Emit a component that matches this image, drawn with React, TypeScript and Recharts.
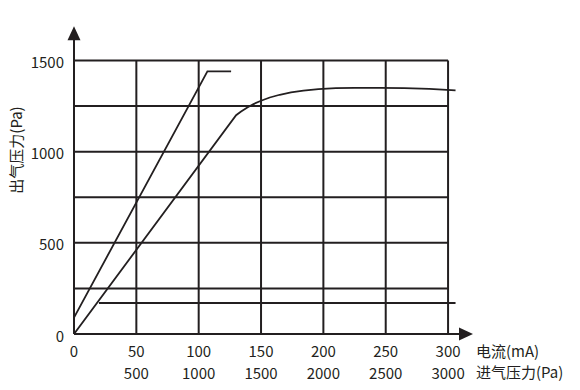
import { LineChart, Line, XAxis, YAxis, ReferenceLine, ReferenceDot } from "recharts";

const INK = "#231f20";
const FONT = "'Noto Sans CJK SC', 'Noto Sans', sans-serif";

// 电流 (mA) ticks and the matching 进气压力 (Pa) ticks under them
const currentTicks = [0, 50, 100, 150, 200, 250, 300];
const inletTicks = ["", "500", "1000", "1500", "2000", "2500", "3000"];
const outletTicks = [0, 500, 1000, 1500];
const gridLevels = [250, 500, 750, 1000, 1250, 1500];

const steepLine = [
  { x: 0, y: 90 },
  { x: 107, y: 1440 },
  { x: 126, y: 1440 },
];

const curveLine = [
  { x: 0, y: 0 },
  { x: 130, y: 1200 },
  { x: 134, y: 1220 },
  { x: 139, y: 1242 },
  { x: 144, y: 1261 },
  { x: 150, y: 1279 },
  { x: 157, y: 1297 },
  { x: 165, y: 1312 },
  { x: 174, y: 1325 },
  { x: 184, y: 1335 },
  { x: 196, y: 1343 },
  { x: 210, y: 1348 },
  { x: 225, y: 1350 },
  { x: 245, y: 1350 },
  { x: 265, y: 1348 },
  { x: 285, y: 1344 },
  { x: 306, y: 1336 },
];

const baseLevel = 170;
const baseStart = 20;
const baseEnd = 306;

const XTick = (props: any) => {
  const { x, payload, index } = props;
  return (
    <g fontFamily={FONT} fontSize={15} fill={INK}>
      <text x={x} y={350} textAnchor="middle" dominantBaseline="central" fill={INK}>
        {payload.value}
      </text>
      <text x={x} y={372} textAnchor="middle" dominantBaseline="central" fill={INK}>
        {inletTicks[index]}
      </text>
    </g>
  );
};

const YTick = (props: any) => {
  const { y, payload } = props;
  return (
    <text x={64} y={y + 1} textAnchor="end" dominantBaseline="central" fontFamily={FONT} fontSize={15} fill={INK}>
      {payload.value}
    </text>
  );
};

const UpArrow = (props: any) => {
  const { cx, cy } = props;
  return <path d={`M${cx},${cy} L${cx - 6.5},${cy + 14} L${cx + 6.5},${cy + 14} Z`} fill={INK} />;
};

const RightArrow = (props: any) => {
  const { cx, cy } = props;
  return <path d={`M${cx},${cy} L${cx - 14},${cy - 6.5} L${cx - 14},${cy + 6.5} Z`} fill={INK} />;
};

export default function App() {
  return (
    <div style={{ position: "absolute", left: 0, top: 0, width: 580, height: 390, background: "#fff", fontFamily: FONT }}>
      <LineChart width={580} height={390} margin={{ top: 24, right: 107, left: 0, bottom: 0 }}>
        <XAxis
          type="number"
          dataKey="x"
          domain={[0, 320]}
          ticks={currentTicks}
          tick={<XTick />}
          axisLine={false}
          tickLine={false}
          height={56}
          allowDataOverflow
        />
        <YAxis
          type="number"
          dataKey="y"
          domain={[0, 1700]}
          ticks={outletTicks}
          tick={<YTick />}
          axisLine={false}
          tickLine={false}
          width={74}
          allowDataOverflow
        />
        {currentTicks.slice(1).map((t) => (
          <ReferenceLine key={"v" + t} segment={[{ x: t, y: 0 }, { x: t, y: 1500 }]} stroke={INK} strokeWidth={2} />
        ))}
        {gridLevels.map((g) => (
          <ReferenceLine key={"h" + g} segment={[{ x: 0, y: g }, { x: 300, y: g }]} stroke={INK} strokeWidth={2} />
        ))}
        <ReferenceLine segment={[{ x: baseStart, y: baseLevel }, { x: baseEnd, y: baseLevel }]} stroke={INK} strokeWidth={2} />
        <ReferenceLine segment={[{ x: 0, y: 0 }, { x: 0, y: 1630 }]} stroke={INK} strokeWidth={2} />
        <ReferenceLine segment={[{ x: 0, y: 0 }, { x: 310, y: 0 }]} stroke={INK} strokeWidth={2} />
        <ReferenceDot x={0} y={1688} r={0} shape={<UpArrow />} />
        <ReferenceDot x={320} y={0} r={0} shape={<RightArrow />} />
        <Line data={steepLine} dataKey="y" type="linear" stroke={INK} strokeWidth={1.8} dot={false} isAnimationActive={false} />
        <Line data={curveLine} dataKey="y" type="linear" stroke={INK} strokeWidth={1.8} dot={false} isAnimationActive={false} />
      </LineChart>
      <div style={{ position: "absolute", left: 476, top: 340, fontSize: 15, lineHeight: "21px", color: INK, whiteSpace: "nowrap" }}>
        电流(mA)
        <br />
        进气压力(Pa)
      </div>
      <div
        style={{
          position: "absolute",
          left: 15,
          top: 150,
          transform: "translate(-50%, -50%) rotate(-90deg)",
          fontSize: 15,
          color: INK,
          whiteSpace: "nowrap",
        }}
      >
        出气压力(Pa)
      </div>
    </div>
  );
}
